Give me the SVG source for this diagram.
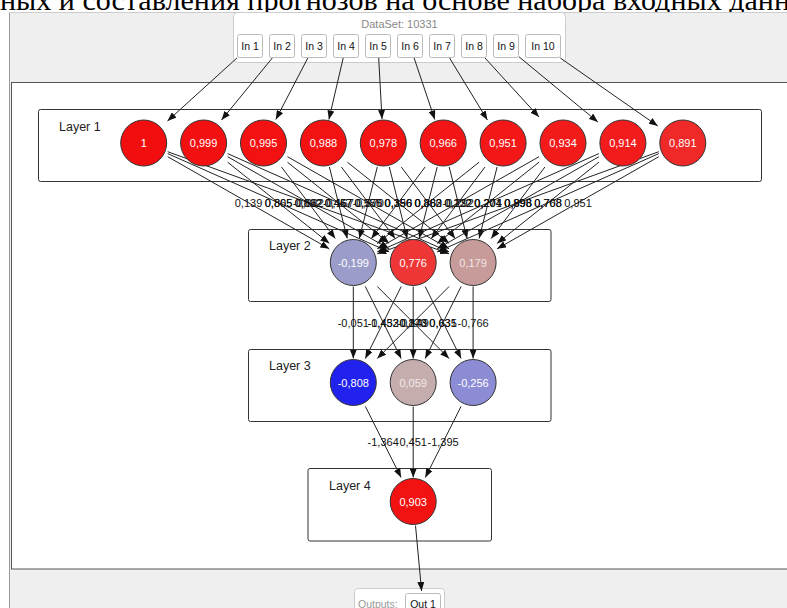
<svg xmlns="http://www.w3.org/2000/svg" width="787" height="608" viewBox="0 0 787 608">
<defs>
<marker id="arr" markerUnits="userSpaceOnUse" markerWidth="9" markerHeight="7" refX="9" refY="3.5" orient="auto">
<path d="M0,0 L9,3.5 L0,7 z" fill="#111"/>
</marker>
<style>
.t{font-family:"Liberation Sans",Arial,sans-serif}
.layer{fill:#fff;stroke:#333;stroke-width:1}
.lt{font-size:12.5px;fill:#222}
.node{stroke:#333;stroke-width:1}
.nt{font-size:11px;fill:#fff;text-anchor:middle}
.in rect{fill:#fff;stroke:#bbb;stroke-width:1}
.in text{font-size:10.5px;fill:#111;text-anchor:middle}
.e line{stroke:#222;stroke-width:1;marker-end:url(#arr)}
.el{font-size:11px;fill:#111;text-anchor:middle}
</style>
</defs>
<rect x="0" y="0" width="787" height="608" fill="#fff"/>
<text x="0" y="9.5" textLength="790" lengthAdjust="spacingAndGlyphs" font-family="'Liberation Serif','Times New Roman',serif" font-size="29" fill="#000">ных и составления прогнозов на основе набора входных данн</text>
<rect x="9" y="12" width="790" height="600" fill="#efefef"/>
<line x1="9.5" y1="12" x2="9.5" y2="608" stroke="#999"/>
<line x1="9" y1="12.5" x2="787" y2="12.5" stroke="#ccc"/>
<rect x="11.5" y="82.5" width="790" height="486.5" fill="#fff" stroke="#555"/>

<g id="dataset" class="t">
<rect x="233.5" y="12.5" width="332" height="50" rx="4" fill="#fff" stroke="#ccc"/>
<text x="399.5" y="27.5" font-size="11" fill="#888" text-anchor="middle">DataSet: 10331</text>
<g class="in" id="in1"><rect x="237.5" y="34.5" width="25" height="23" rx="2"/><text x="250" y="50">In 1</text></g>
<g class="in" id="in2"><rect x="269.5" y="34.5" width="25" height="23" rx="2"/><text x="282" y="50">In 2</text></g>
<g class="in" id="in3"><rect x="301.5" y="34.5" width="25" height="23" rx="2"/><text x="314" y="50">In 3</text></g>
<g class="in" id="in4"><rect x="333.5" y="34.5" width="25" height="23" rx="2"/><text x="346" y="50">In 4</text></g>
<g class="in" id="in5"><rect x="365.5" y="34.5" width="25" height="23" rx="2"/><text x="378" y="50">In 5</text></g>
<g class="in" id="in6"><rect x="397.5" y="34.5" width="25" height="23" rx="2"/><text x="410" y="50">In 6</text></g>
<g class="in" id="in7"><rect x="429.5" y="34.5" width="25" height="23" rx="2"/><text x="442" y="50">In 7</text></g>
<g class="in" id="in8"><rect x="461.5" y="34.5" width="25" height="23" rx="2"/><text x="474" y="50">In 8</text></g>
<g class="in" id="in9"><rect x="493.5" y="34.5" width="25" height="23" rx="2"/><text x="506" y="50">In 9</text></g>
<g class="in" id="in10"><rect x="525.5" y="34.5" width="35" height="23" rx="2"/><text x="543" y="50">In 10</text></g>
</g>

<g id="outputs" class="t">
<rect x="354.5" y="588.5" width="90" height="30" rx="3" fill="#fff" stroke="#ccc"/>
<text x="358" y="608" font-size="10.5" fill="#999">Outputs:</text>
<g class="in" id="out1"><rect x="405.5" y="593.5" width="35" height="22" rx="2"/><text x="423" y="608">Out 1</text></g>
</g>

<g id="layer1" class="t"><rect class="layer" x="38.5" y="109.5" width="723" height="72" rx="2"/><text class="lt" x="59" y="131">Layer 1</text></g>
<g id="layer2" class="t"><rect class="layer" x="248.5" y="229.5" width="302.5" height="72" rx="2"/><text class="lt" x="269" y="250">Layer 2</text></g>
<g id="layer3" class="t"><rect class="layer" x="248.5" y="349.5" width="302.5" height="72" rx="2"/><text class="lt" x="269" y="370">Layer 3</text></g>
<g id="layer4" class="t"><rect class="layer" x="308" y="468.5" width="183.5" height="72.5" rx="2"/><text class="lt" x="329" y="489.5">Layer 4</text></g>

<g id="connectors" class="e">
<line x1="237" y1="57.9" x2="167.5" y2="121"/>
<line x1="272.3" y1="58" x2="221.5" y2="120"/>
<line x1="307.8" y1="58" x2="275.8" y2="119.5"/>
<line x1="343.2" y1="58" x2="328.9" y2="119.5"/>
<line x1="378.7" y1="58" x2="382" y2="119"/>
<line x1="414.1" y1="58" x2="434.8" y2="119.5"/>
<line x1="449.6" y1="58" x2="487.4" y2="120"/>
<line x1="485" y1="58" x2="539" y2="117"/>
<line x1="519" y1="56.8" x2="597.9" y2="122"/>
<line x1="560.3" y1="58" x2="657.8" y2="126"/>

<line x1="167.7" y1="156.7" x2="329.3" y2="248.8"/>
<line x1="167.7" y1="153.6" x2="389.2" y2="251.9"/>
<line x1="167.7" y1="151.7" x2="449.1" y2="253.8"/>
<line x1="227.6" y1="162.2" x2="329.3" y2="243.3"/>
<line x1="227.6" y1="156.7" x2="389.2" y2="248.8"/>
<line x1="227.6" y1="153.6" x2="449.1" y2="251.9"/>
<line x1="281.5" y1="167" x2="335.3" y2="238.5"/>
<line x1="287.5" y1="162.2" x2="389.2" y2="243.3"/>
<line x1="287.5" y1="156.7" x2="449.1" y2="248.8"/>
<line x1="329.4" y1="167" x2="347.3" y2="238.5"/>
<line x1="341.4" y1="167" x2="395.2" y2="238.5"/>
<line x1="347.4" y1="162.2" x2="449.1" y2="243.3"/>
<line x1="377.3" y1="167" x2="359.3" y2="238.5"/>
<line x1="389.3" y1="167" x2="407.2" y2="238.5"/>
<line x1="401.3" y1="167" x2="455.1" y2="238.5"/>
<line x1="425.1" y1="167" x2="371.4" y2="238.5"/>
<line x1="437.2" y1="167" x2="419.2" y2="238.5"/>
<line x1="449.2" y1="167" x2="467.1" y2="238.5"/>
<line x1="479.1" y1="162.2" x2="377.3" y2="243.4"/>
<line x1="485" y1="167" x2="431.3" y2="238.5"/>
<line x1="497.1" y1="167" x2="479.1" y2="238.5"/>
<line x1="539" y1="156.7" x2="377.3" y2="248.8"/>
<line x1="539" y1="162.2" x2="437.2" y2="243.4"/>
<line x1="544.9" y1="167" x2="491.2" y2="238.5"/>
<line x1="598.9" y1="153.6" x2="377.3" y2="251.9"/>
<line x1="598.9" y1="156.7" x2="437.2" y2="248.8"/>
<line x1="598.9" y1="162.2" x2="497.1" y2="243.4"/>
<line x1="658.8" y1="151.7" x2="377.3" y2="253.8"/>
<line x1="658.8" y1="153.6" x2="437.2" y2="251.9"/>
<line x1="658.8" y1="156.7" x2="497.1" y2="248.8"/>

<line x1="353.3" y1="286.5" x2="353.3" y2="358.5"/>
<line x1="365.3" y1="286.5" x2="401.2" y2="358.5"/>
<line x1="377.3" y1="286.5" x2="449.1" y2="358.5"/>
<line x1="401.2" y1="286.5" x2="365.3" y2="358.5"/>
<line x1="413.2" y1="286.5" x2="413.2" y2="358.5"/>
<line x1="425.2" y1="286.5" x2="461.1" y2="358.5"/>
<line x1="449.1" y1="286.5" x2="377.3" y2="358.5"/>
<line x1="461.1" y1="286.5" x2="425.2" y2="358.5"/>
<line x1="473.1" y1="286.5" x2="473.1" y2="358.5"/>

<line x1="365.4" y1="406.5" x2="401.1" y2="477.5"/>
<line x1="413.2" y1="406.5" x2="413.2" y2="477.5"/>
<line x1="461" y1="406.5" x2="425.3" y2="477.5"/>

<line x1="415.5" y1="525.5" x2="421.6" y2="591"/>

<g class="t">
<text class="el" x="248.5" y="206.7">0,139</text>
<text class="el" x="278.5" y="206.7">0,865</text>
<text class="el" x="278.5" y="206.7">0,805</text>
<text class="el" x="308.4" y="206.7">-0,882</text>
<text class="el" x="308.4" y="206.7">0,662</text>
<text class="el" x="308.4" y="206.7">0,832</text>
<text class="el" x="338.4" y="206.7">0,467</text>
<text class="el" x="338.4" y="206.7">-0,167</text>
<text class="el" x="338.4" y="206.7">0,457</text>
<text class="el" x="368.3" y="206.7">0,575</text>
<text class="el" x="368.3" y="206.7">0,750</text>
<text class="el" x="368.3" y="206.7">-0,370</text>
<text class="el" x="398.3" y="206.7">0,356</text>
<text class="el" x="398.3" y="206.7">0,196</text>
<text class="el" x="398.3" y="206.7">0,350</text>
<text class="el" x="428.2" y="206.7">0,363</text>
<text class="el" x="428.2" y="206.7">0,862</text>
<text class="el" x="428.2" y="206.7">0,880</text>
<text class="el" x="458.2" y="206.7">0,232</text>
<text class="el" x="458.2" y="206.7">0,122</text>
<text class="el" x="458.2" y="206.7">-0,292</text>
<text class="el" x="488.1" y="206.7">0,204</text>
<text class="el" x="488.1" y="206.7">0,201</text>
<text class="el" x="488.1" y="206.7">0,274</text>
<text class="el" x="518.1" y="206.7">0,896</text>
<text class="el" x="518.1" y="206.7">0,993</text>
<text class="el" x="518.1" y="206.7">0,898</text>
<text class="el" x="548" y="206.7">0,768</text>
<text class="el" x="548" y="206.7">0,708</text>
<text class="el" x="578" y="206.7">0,951</text>

<text class="el" x="353.3" y="326.5">-0,051</text>
<text class="el" x="383.2" y="326.5">-1,433</text>
<text class="el" x="383.2" y="326.5">-0,452</text>
<text class="el" x="413.2" y="326.5">0,143</text>
<text class="el" x="413.2" y="326.5">-0,149</text>
<text class="el" x="413.2" y="326.5">0,870</text>
<text class="el" x="443.1" y="326.5">0,635</text>
<text class="el" x="443.1" y="326.5">0,631</text>
<text class="el" x="473.1" y="326.5">-0,766</text>

<text class="el" x="383.2" y="446">-1,364</text>
<text class="el" x="413.2" y="446">0,451</text>
<text class="el" x="443.1" y="446">-1,395</text>
</g>
</g>

<g class="t">
<g id="n1_1"><circle class="node" cx="143.7" cy="143" r="23" fill="#f20e0e"/><text class="nt" x="143.7" y="147">1</text></g>
<g id="n1_2"><circle class="node" cx="203.6" cy="143" r="23" fill="#f31010"/><text class="nt" x="203.6" y="147">0,999</text></g>
<g id="n1_3"><circle class="node" cx="263.5" cy="143" r="23" fill="#f31111"/><text class="nt" x="263.5" y="147">0,995</text></g>
<g id="n1_4"><circle class="node" cx="323.4" cy="143" r="23" fill="#f31212"/><text class="nt" x="323.4" y="147">0,988</text></g>
<g id="n1_5"><circle class="node" cx="383.3" cy="143" r="23" fill="#f31313"/><text class="nt" x="383.3" y="147">0,978</text></g>
<g id="n1_6"><circle class="node" cx="443.2" cy="143" r="23" fill="#f31515"/><text class="nt" x="443.2" y="147">0,966</text></g>
<g id="n1_7"><circle class="node" cx="503.1" cy="143" r="23" fill="#f31717"/><text class="nt" x="503.1" y="147">0,951</text></g>
<g id="n1_8"><circle class="node" cx="563" cy="143" r="23" fill="#f31a1a"/><text class="nt" x="563" y="147">0,934</text></g>
<g id="n1_9"><circle class="node" cx="622.9" cy="143" r="23" fill="#f21c1c"/><text class="nt" x="622.9" y="147">0,914</text></g>
<g id="n1_10"><circle class="node" cx="682.8" cy="143" r="23" fill="#ef2828"/><text class="nt" x="682.8" y="147">0,891</text></g>

<g id="n2_1"><circle class="node" cx="353.3" cy="262.5" r="23" fill="#9c9cca"/><text class="nt" x="353.3" y="266.5">-0,199</text></g>
<g id="n2_2"><circle class="node" cx="413.2" cy="262.5" r="23" fill="#ee3636"/><text class="nt" x="413.2" y="266.5">0,776</text></g>
<g id="n2_3"><circle class="node" cx="473.1" cy="262.5" r="23" fill="#c89b9b"/><text class="nt" x="473.1" y="266.5" style="fill:#f0e6e6">0,179</text></g>

<g id="n3_1"><circle class="node" cx="353.3" cy="382.5" r="23" fill="#2222ee"/><text class="nt" x="353.3" y="386.5">-0,808</text></g>
<g id="n3_2"><circle class="node" cx="413.2" cy="382.5" r="23" fill="#c6adad"/><text class="nt" x="413.2" y="386.5" style="fill:#f2eaea">0,059</text></g>
<g id="n3_3"><circle class="node" cx="473.1" cy="382.5" r="23" fill="#8c8cd4"/><text class="nt" x="473.1" y="386.5">-0,256</text></g>

<g id="n4_1"><circle class="node" cx="413.2" cy="501.5" r="23" fill="#f31212"/><text class="nt" x="413.2" y="505.5">0,903</text></g>
</g>
</svg>
